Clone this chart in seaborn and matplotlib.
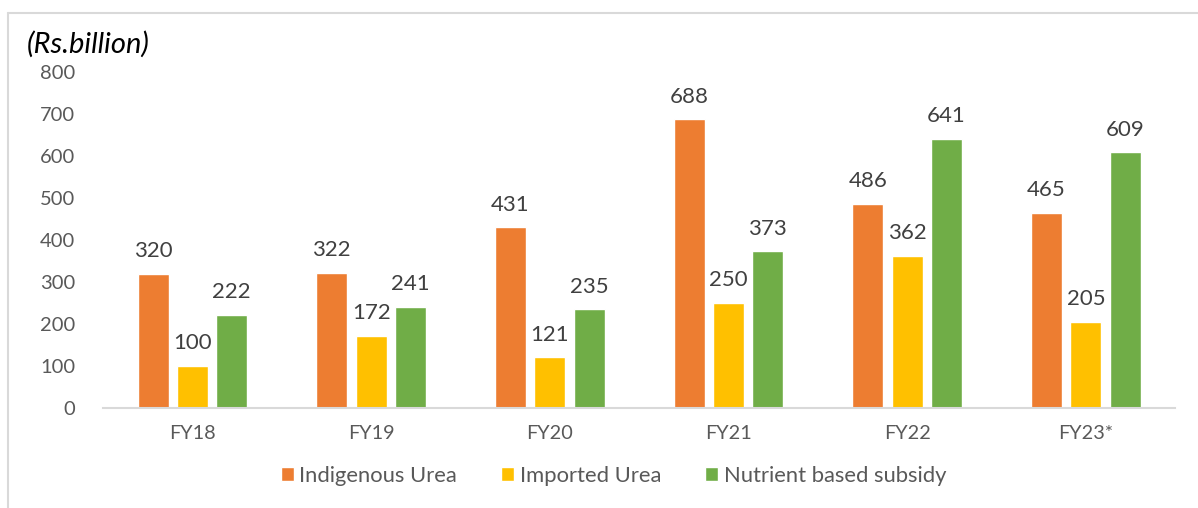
import matplotlib
matplotlib.use("Agg")
import matplotlib.pyplot as plt
from matplotlib.lines import Line2D
import pandas as pd
import seaborn as sns

years = ["FY18", "FY19", "FY20", "FY21", "FY22", "FY23*"]
indigenous_urea = [320, 322, 431, 688, 486, 465]
imported_urea = [100, 172, 121, 250, 362, 205]
nutrient_subsidy = [222, 241, 235, 373, 641, 609]
series_names = ["Indigenous Urea", "Imported Urea", "Nutrient based subsidy"]
colors = ["#ED7D31", "#FFC000", "#70AD47"]

df = pd.DataFrame({
    "year": years * 3,
    "series": [series_names[0]] * 6 + [series_names[1]] * 6 + [series_names[2]] * 6,
    "value": indigenous_urea + imported_urea + nutrient_subsidy,
})

sns.set_theme(style="white")
plt.rcParams["font.family"] = ["Lato", "DejaVu Sans"]

fig = plt.figure(figsize=(11.98, 5.08), dpi=100)
ax = fig.add_axes([0.086, 0.197, 0.895, 0.661])

sns.barplot(data=df, x="year", y="value", hue="series", order=years,
            hue_order=series_names, palette=colors, width=0.66, gap=0.21,
            saturation=1, ax=ax, legend=True)

for cont in ax.containers:
    ax.bar_label(cont, labels=[f"{v:.0f}" for v in cont.datavalues],
                 padding=9, fontsize=16, color="#404040")

ax.set_ylim(0, 800)
ax.set_yticks(range(0, 801, 100))
ax.set_xlabel("")
ax.set_ylabel("")
ax.tick_params(axis="y", labelsize=14.5, colors="#595959", length=0, pad=20)
ax.tick_params(axis="x", labelsize=14.3, colors="#595959", length=0, pad=12)
for s in ["top", "right", "left"]:
    ax.spines[s].set_visible(False)
ax.spines["bottom"].set_color("#d9d9d9")
ax.spines["bottom"].set_linewidth(1.5)

handles, labels = ax.get_legend_handles_labels()
ax.legend_.remove()
fig.legend(handles, labels, loc="center", bbox_to_anchor=(0.512, 0.063),
           ncol=3, frameon=False, fontsize=15.8, handlelength=0.6,
           handleheight=0.6, handletextpad=0.25, columnspacing=2.0,
           labelcolor="#595959")

fig.text(0.022, 0.913, "(Rs.billion)", fontsize=21, style="italic",
         color="#000000", va="center", ha="left")

# light frame around the chart area
fig.add_artist(Line2D([0.0068, 1.0], [0.974, 0.974], color="#d9d9d9", lw=1.5,
                      transform=fig.transFigure))
fig.add_artist(Line2D([0.0068, 0.0068], [0.0, 0.974], color="#d9d9d9", lw=1.5,
                      transform=fig.transFigure))

fig.savefig("out.png", dpi=100)
